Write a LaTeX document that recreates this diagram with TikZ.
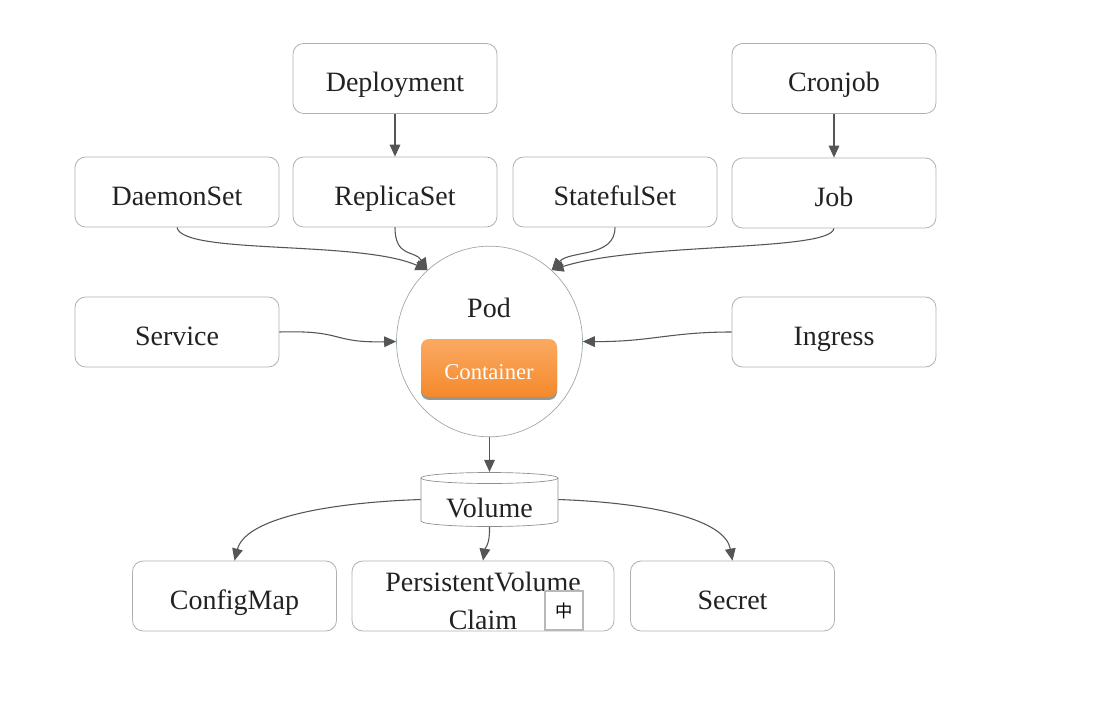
\documentclass[tikz,border=0pt]{standalone}
\usepackage{fontspec}
\setmainfont{Liberation Serif}
\newfontfamily\cjkfont{Noto Sans CJK SC}
\usetikzlibrary{arrows.meta,shapes.geometric,shadows}
\definecolor{linec}{HTML}{555555}
\definecolor{boxc}{HTML}{B0B0B0}
\definecolor{orangetop}{HTML}{FBAA62}
\definecolor{orangebot}{HTML}{F4892C}
\definecolor{shadowc}{HTML}{8E9A92}
\definecolor{textc}{HTML}{222222}
\definecolor{podc}{HTML}{9AA8A0}
\begin{document}
\begin{tikzpicture}[x=0.75pt,y=-0.75pt,
  box/.style={draw=boxc, line width=0.6pt, rounded corners=8pt, minimum width=153pt, minimum height=52.5pt,
              font=\fontsize{21}{28}\selectfont, text=textc, fill=white, inner sep=0pt,
              text height=20pt, text depth=0pt},
  lbl/.style={font=\fontsize{21}{28.5}\selectfont, text=textc, inner sep=0pt},
  conn/.style={draw=linec, line width=0.8pt, -{Triangle[length=9pt,width=8pt]}},
]
\useasboundingbox (0,0) rectangle (1100,707);
\fill[white] (0,0) rectangle (1100,707);

% top rows
\node[box] (dep) at (395,78.5) {Deployment};
\node[box] (cron) at (834,78.5) {Cronjob};
\node[box] (ds) at (177,192) {DaemonSet};
\node[box] (rs) at (395,192) {ReplicaSet};
\node[box] (ss) at (615,192) {StatefulSet};
\node[box] (job) at (834,193) {Job};
\node[box] (svc) at (177,332) {Service};
\node[box] (ing) at (834,332) {Ingress};

% pod
\node[ellipse, draw=podc, line width=0.5pt, minimum width=139.5pt, minimum height=143pt] (pod) at (489.5,341.5) {};
\node[lbl] (podlabel) at (489,308) {Pod};
\node[rounded corners=6pt, minimum width=102pt, minimum height=43.5pt, top color=orangetop, bottom color=orangebot,
      text=white, font=\fontsize{17}{20}\selectfont, text height=16.5pt, text depth=0pt, inner sep=0pt,
      general shadow={fill=shadowc, shadow yshift=-2.2pt}] (ctr) at (489,368) {Container};

% volume cylinder
\node[minimum width=102.75pt, minimum height=41pt, inner sep=0pt] (vol) at (489.5,499.5) {};
\draw[black!45, line width=0.5pt, fill=white] (421,478) -- (421,521) arc[start angle=180, end angle=0, x radius=68.5, y radius=5.5] -- (558,478);
\draw[black!45, line width=0.5pt, fill=white] (489.5,478) ellipse [x radius=68.5, y radius=5.5];
\node[lbl] (vollabel) at (489.5,508) {Volume};

% bottom row
\node[box] (cm) at (234.5,596) {ConfigMap};
\node[box, minimum width=196.5pt] (pvc) at (483,596) {};
\node[lbl, align=center] (pvclabel) at (483,601) {PersistentVolume\\Claim};
\node[box] (sec) at (732.5,596) {Secret};
\node[draw=black!28, line width=1.6pt, fill=white, minimum size=29pt, inner sep=0pt,
      font=\cjkfont\fontsize{13}{13}\selectfont] (ime) at (564,610.5) {中};

% connectors
\draw[conn] (dep.south) -- (rs.north);
\draw[conn] (cron.south) -- (job.north);
\draw[conn] (ds.south) .. controls (182,255) and (360,240) .. (pod.131);
\draw[conn] (rs.south) .. controls (395,258) and (415,250) .. (pod.131);
\draw[conn] (ss.south) .. controls (615,258) and (570,250) .. (pod.49);
\draw[conn] (job.south) .. controls (830,252) and (640,242) .. (pod.49);
\draw[conn] (svc.east) .. controls (345,330) and (330,343) .. (pod.west);
\draw[conn] (ing.west) .. controls (670,332) and (650,342) .. (pod.east);
\draw[conn] (pod.south) -- (vol.north);
\draw[conn] (vol.west) .. controls (320,503) and (245,520) .. (cm.north);
\draw[conn] (vol.south) .. controls (490,545) and (485,548) .. (pvc.north);
\draw[conn] (vol.east) .. controls (655,503) and (725,520) .. (sec.north);
\end{tikzpicture}
\end{document}
